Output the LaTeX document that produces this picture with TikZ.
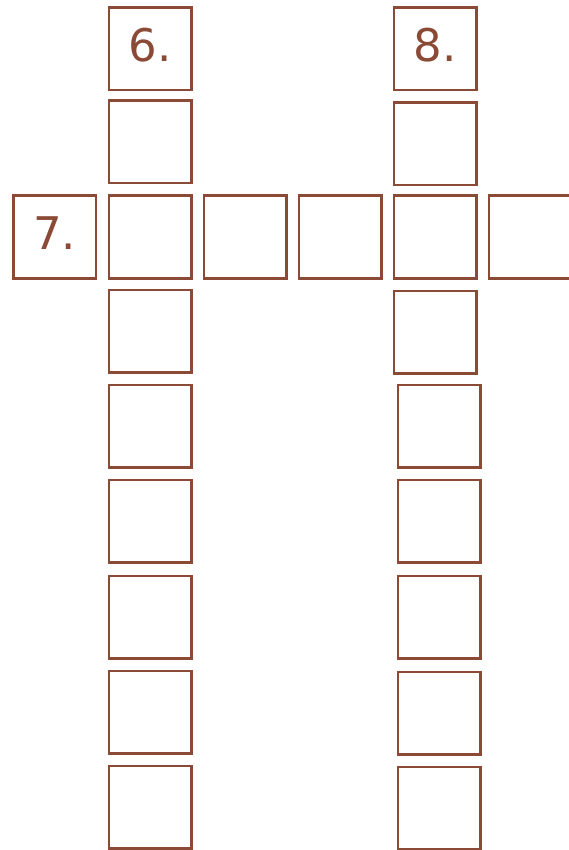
\documentclass[tikz,border=0pt]{standalone}
\usepackage{fontspec}
\newfontfamily\cluefont{DejaVu Sans}
\definecolor{clue}{RGB}{139,74,54}

\begin{document}
\begin{tikzpicture}[
    x=1pt, y=1pt,
    cell/.style={draw=clue, line width=2.5pt, minimum size=82.5pt, inner sep=0pt},
    numbered/.style={cell, text=clue, font=\cluefont\fontsize{45}{45}\selectfont, text depth=8pt}
]
\clip (0,0) rectangle (569,-850);
% down 6
\node[numbered] (six) at (150,-49) {6.};
\node[cell] (six2) at (150,-142) {};
\node[cell] (six3) at (150,-237) {};
\node[cell] (six4) at (150,-331) {};
\node[cell] (six5) at (150,-426) {};
\node[cell] (six6) at (150,-521) {};
\node[cell] (six7) at (150,-617) {};
\node[cell] (six8) at (150,-712) {};
\node[cell] (six9) at (150,-807) {};
% across 7
\node[numbered] (seven) at (54.5,-237) {7.};
\node[cell] (seven3) at (245,-237) {};
\node[cell] (seven4) at (340,-237) {};
\node[cell] (seven5) at (435,-237) {};
\node[cell] (seven6) at (530,-237) {};
% down 8
\node[numbered] (eight) at (435,-49) {8.};
\node[cell] (eight2) at (435,-144) {};
\node[cell] (eight4) at (435,-332) {};
\node[cell] (eight5) at (439,-426) {};
\node[cell] (eight6) at (439,-521) {};
\node[cell] (eight7) at (439,-617) {};
\node[cell] (eight8) at (439,-713) {};
\node[cell] (eight9) at (439,-808) {};
\end{tikzpicture}
\end{document}
